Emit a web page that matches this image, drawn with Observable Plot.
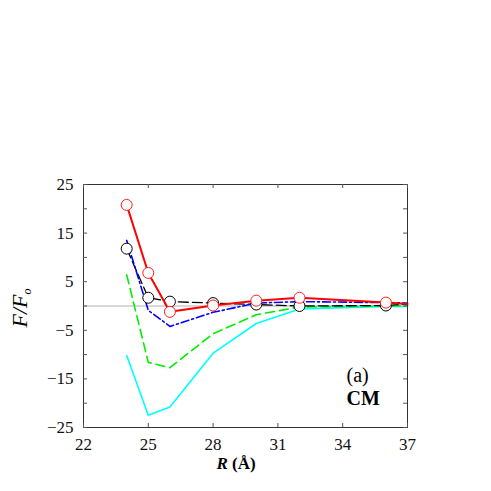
<!DOCTYPE html>
<html>
<head>
<meta charset="utf-8">
<script src="https://cdn.jsdelivr.net/npm/d3@7"></script>
<script src="https://cdn.jsdelivr.net/npm/@observablehq/plot@0.6"></script>
<style>
  html, body { margin: 0; padding: 0; background: #fff; }
  #chart svg { display: block; }
</style>
</head>
<body>
<div id="chart"></div>
<script>
// Data
const R      = [24, 25, 26, 28, 30, 32, 36, 37];
const red    = [20.8, 6.8, -1.2, 0.1, 1.1, 1.7, 0.7, 0.4];
const black  = [11.8, 1.7, 0.9, 0.6, 0.3, 0.0, 0.1, 0.4];
const blue   = [13.5, -0.9, -4.2, -1.3, 0.6, 0.9, 0.7, 0.6];
const green  = [6.4, -11.6, -12.7, -5.7, -1.8, -0.2, 0.0, 0.1];
const cyan   = [-10.2, -22.5, -20.8, -9.7, -3.6, -0.6, -0.1, -0.1];
const markedR = [24, 25, 26, 28, 30, 32, 36];

const xTickLabels = [22, 25, 28, 31, 34, 37];
const yTickLabels = [25, 15, 5, -5, -15, -25];
const yTickMarks  = [-25, -20, -15, -10, -5, 0, 5, 10, 15, 20, 25];
const annotations = ["(a)", "CM"];

const rows = (ys) => R.map((r, i) => ({R: r, v: ys[i]}));
const marked = (ys) => rows(ys).filter(d => markedR.includes(d.R));

const W = 491, H = 491;
const mL = 83, mR = 84, mT = 184, mB = 64;
const pw = W - mL - mR, ph = H - mT - mB;
const font = "'Liberation Serif', 'Times New Roman', serif";

const plot = Plot.plot({
  width: W, height: H,
  marginLeft: mL, marginRight: mR, marginTop: mT, marginBottom: mB,
  style: {fontFamily: font, background: "#fff", overflow: "visible"},
  x: {domain: [22, 37]},
  y: {domain: [-25, 25]},
  marks: [
    Plot.ruleY([0], {stroke: "#b0b0b0", strokeWidth: 1}),
    Plot.line(rows(cyan),  {x: "R", y: "v", stroke: "#00ffff", strokeWidth: 1.6}),
    Plot.line(rows(green), {x: "R", y: "v", stroke: "#00ee00", strokeWidth: 1.6, strokeDasharray: "9,5"}),
    Plot.line(rows(black), {x: "R", y: "v", stroke: "#000", strokeWidth: 1.3, strokeDasharray: "10,4"}),
    Plot.line(rows(blue),  {x: "R", y: "v", stroke: "#0000ff", strokeWidth: 1.6, strokeDasharray: "8,3,2,3"}),
    Plot.dot(marked(black), {x: "R", y: "v", r: 5.5, stroke: "#000", fill: "#fff", strokeWidth: 1}),
    Plot.line(rows(red),   {x: "R", y: "v", stroke: "#ff0000", strokeWidth: 2}),
    Plot.dot(marked(red), {x: "R", y: "v", r: 5.5, stroke: "#ff2020", fill: "#fff", strokeWidth: 1}),
    Plot.frame({stroke: "#333", strokeWidth: 1}),
    // inward tick marks on all four sides
    Plot.tickX(xTickLabels, {x: d => d, insetBottom: ph - 4, stroke: "#555"}),
    Plot.tickX(xTickLabels, {x: d => d, insetTop: ph - 4, stroke: "#555"}),
    Plot.tickY(yTickMarks, {y: d => d, insetRight: pw - 4, stroke: "#555"}),
    Plot.tickY(yTickMarks, {y: d => d, insetLeft: pw - 4, stroke: "#555"}),
    Plot.axisX(xTickLabels, {tickSize: 0, tickPadding: 10, fontSize: 17, fontFamily: font, label: null, fill: "#111"}),
    Plot.axisY(yTickLabels, {tickSize: 0, tickPadding: 10, fontSize: 17, fontFamily: font, label: null, fill: "#111"}),
    Plot.text([annotations[0]], {frameAnchor: "bottom-right", text: d => d, textAnchor: "start", dx: -61, dy: -46, fontSize: 20, fontFamily: font, fill: "#000"}),
    Plot.text([annotations[1]], {frameAnchor: "bottom-right", text: d => d, textAnchor: "start", dx: -61, dy: -23, fontSize: 20, fontFamily: font, fontWeight: "bold", fill: "#000"})
  ]
});

const svg = d3.select(plot);
// force serif on all tick label text
svg.selectAll("text").style("font-family", font);
// y-axis label F/F_o
const yl = svg.append("text")
  .attr("transform", "translate(27,308) rotate(-90)")
  .attr("text-anchor", "middle")
  .style("font-family", font)
  .attr("font-style", "italic")
  .attr("font-size", 22)
  .attr("fill", "#000");
yl.append("tspan").text("F/F");
yl.append("tspan").attr("dy", 4).attr("font-size", 12).text("o");
// x-axis label R (Å)
const xl = svg.append("text")
  .attr("x", 236).attr("y", 469)
  .attr("text-anchor", "middle")
  .style("font-family", font)
  .attr("font-weight", "bold")
  .attr("font-size", 17)
  .attr("fill", "#000");
xl.append("tspan").attr("font-style", "italic").text("R");
xl.append("tspan").text(" (Å)");

document.getElementById("chart").appendChild(plot);
</script>
</body>
</html>
